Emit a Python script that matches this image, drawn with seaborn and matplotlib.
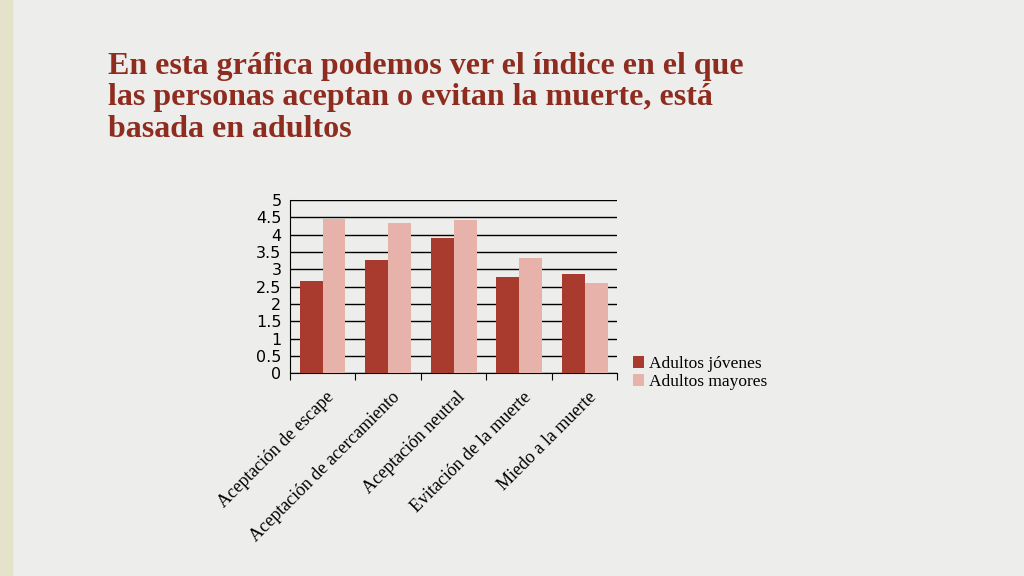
import matplotlib
matplotlib.use("Agg")
import matplotlib.pyplot as plt
import seaborn as sns
import pandas as pd

categories = ["Aceptación de escape", "Aceptación de acercamiento", "Aceptación neutral",
              "Evitación de la muerte", "Miedo a la muerte"]
jovenes = [2.66, 3.27, 3.9, 2.77, 2.86]
mayores = [4.45, 4.34, 4.42, 3.32, 2.6]
series = ["Adultos jóvenes", "Adultos mayores"]
yticks = [0, 0.5, 1, 1.5, 2, 2.5, 3, 3.5, 4, 4.5, 5]

df = pd.DataFrame({"cat": categories * 2, "val": jovenes + mayores,
                   "serie": [series[0]] * 5 + [series[1]] * 5})

fig = plt.figure(figsize=(10.24, 5.76), dpi=100)
fig.patch.set_facecolor("#ededeb")
fig.add_artist(plt.Rectangle((0, 0), 0.012, 1, transform=fig.transFigure,
                             color="#e4e2c8", zorder=0))
fig.text(0.105, 0.91, "En esta gráfica podemos ver el índice en el que\nlas personas aceptan o evitan la muerte, está\nbasada en adultos",
         fontfamily="Liberation Serif", fontweight="bold", fontsize=23,
         color="#8e2c20", va="top", linespacing=1.12)

ax = fig.add_axes([0.283, 0.352, 0.32, 0.301])
ax.set_facecolor("#ededeb")
sns.barplot(data=df, x="cat", y="val", hue="serie", palette=["#a83a2e", "#e6b2aa"],
            width=0.7, gap=0.0, ax=ax, zorder=3, edgecolor="none", saturation=1)
ax.set_ylim(0, 5)
ax.set_yticks(yticks)
ax.set_yticklabels([f"{t:g}" for t in yticks], fontsize=11.5)
ax.yaxis.grid(True, color="black", linewidth=1, zorder=0)
ax.set_axisbelow(True)
ax.tick_params(axis="y", length=0, pad=6)
ax.tick_params(axis="x", length=5, direction="out")
ax.set_xlabel("")
ax.set_ylabel("")
for s in ["top", "right"]:
    ax.spines[s].set_visible(False)
ax.set_xticks([i + 0.5 for i in range(-1, 5)], minor=False)
ax.set_xticklabels([])
for i, c in enumerate(categories):
    ax.text(i + 0.05, -0.45, c, rotation=45, ha="right", va="top",
            fontfamily="Liberation Serif", fontsize=13, rotation_mode="anchor")
ax.set_xlim(-0.5, 4.5)
ax.legend(loc="center left", bbox_to_anchor=(1.0, 0.0), frameon=False,
          prop={"family": "Liberation Serif", "size": 12.5}, handlelength=0.6,
          handletextpad=0.3, labelspacing=0.1)
fig.savefig("out.png", dpi=100, facecolor=fig.get_facecolor())
